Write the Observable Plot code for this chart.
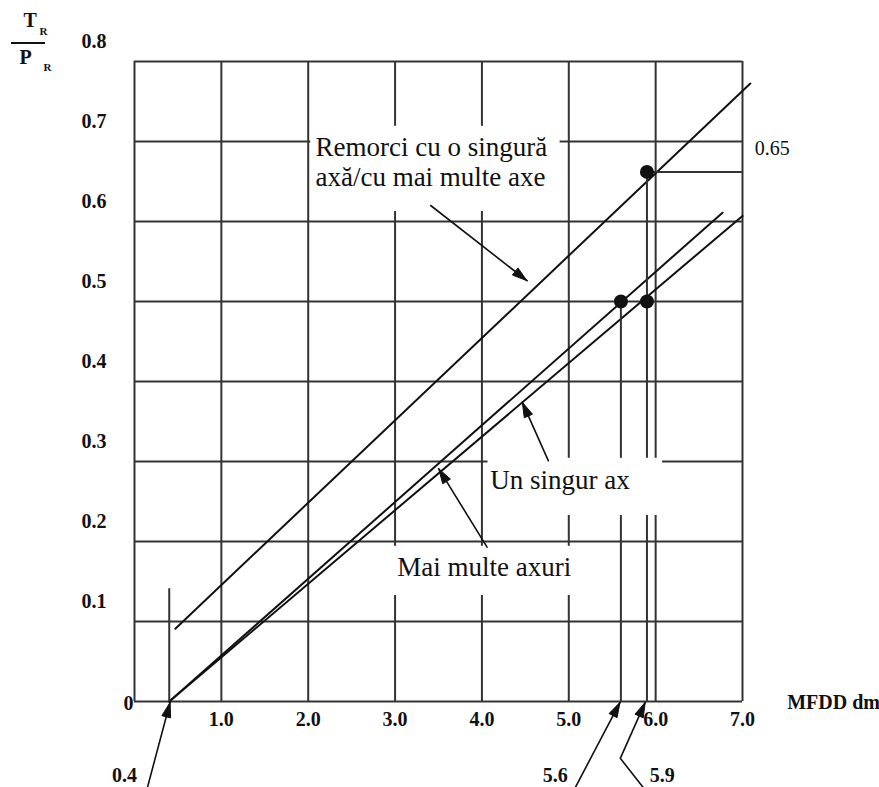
<!DOCTYPE html>
<html>
<head>
<meta charset="utf-8">
<script src="https://cdn.jsdelivr.net/npm/d3@7"></script>
<script src="https://cdn.jsdelivr.net/npm/@observablehq/plot@0.6"></script>
<style>
  html, body { margin: 0; padding: 0; background: #fff; }
  #chart svg, #chart svg text { font-family: "Liberation Serif", "Times New Roman", serif !important; }
</style>
</head>
<body>
<div id="chart"></div>
<script>
// ---- tick values ----
const xGridTicks = [0, 1, 2, 3, 4, 5, 6, 7];
const xLabelTicks = [1, 2, 3, 4, 5, 6, 7];
const yGridTicks = [0, 0.1, 0.2, 0.3, 0.4, 0.5, 0.6, 0.7, 0.8];
const yLabelTicks = [0.1, 0.2, 0.3, 0.4, 0.5, 0.6, 0.7, 0.8];
const yZeroTick = [0];

// ---- series (MFDD -> TR/PR) ----
const remorciLine = [{x: 0.47, y: 0.091}, {x: 7.09, y: 0.7725}];
const maiMulteAxuriLine = [{x: 0.4, y: 0}, {x: 6.77, y: 0.611}];
const unSingurAxLine = [{x: 0.4, y: 0}, {x: 7.0, y: 0.607}];

// ---- marked points and reading lines ----
const markedPoints = [{x: 5.6, y: 0.5}, {x: 5.9, y: 0.5}, {x: 5.9, y: 0.662}];
const dropLines = [{x: 0.4, y1: 0, y2: 0.141}, {x: 5.6, y1: 0, y2: 0.5}, {x: 5.9, y1: 0, y2: 0.662}];
const leaderLines = [{x1: 5.9, x2: 7.0, y: 0.662}];

// ---- annotation label boxes, texts and arrows ----
const labelBoxes = [
  {x1: 2.03, x2: 4.90, y1: 0.6125, y2: 0.719},
  {x1: 4.07, x2: 6.08, y1: 0.2325, y2: 0.304},
  {x1: 2.97, x2: 5.25, y1: 0.1325, y2: 0.194}
];
const annotationTexts = [
  {x: 2.083, y: 0.645, text: "Remorci cu o singură\naxă/cu mai multe axe"},
  {x: 4.097, y: 0.266, text: "Un singur ax"},
  {x: 3.026, y: 0.1575, text: "Mai multe axuri"}
];
// each arrow is a path of points; the head goes on the last point
const arrowPaths = [
  {id: "a1", x: 3.41, y: 0.620}, {id: "a1", x: 4.519, y: 0.526},
  {id: "a2", x: 4.764, y: 0.301}, {id: "a2", x: 4.465, y: 0.374},
  {id: "a3", x: 4.059, y: 0.193}, {id: "a3", x: 3.502, y: 0.291},
  {id: "b04", x: 0.15, y: -0.107}, {id: "b04", x: 0.41, y: -0.001},
  {id: "b56", x: 5.075, y: -0.1075}, {id: "b56", x: 5.59, y: -0.001},
  {id: "b59", x: 5.857, y: -0.1075}, {id: "b59", x: 5.593, y: -0.071}, {id: "b59", x: 5.88, y: -0.001}
];
const bottomLabels = [
  {x: -0.115, y: -0.0925, text: "0.4"},
  {x: 4.845, y: -0.0925, text: "5.6"},
  {x: 6.076, y: -0.0925, text: "5.9"}
];
const valueLabels = [{x: 7.342, y: 0.691, text: "0.65"}];
const xTitle = [{x: 7.514, y: -0.001, text: "MFDD dm"}];

const FONT = "Liberation Serif";
const INK = "#111";
const GRID = "#333";
const HEAD_LEN = 15, HEAD_HALF = 4.5;

function makeChart(extraMarks) {
  return Plot.plot({
    width: 879,
    height: 787,
    marginLeft: 134,
    marginRight: 137,
    marginTop: 61,
    marginBottom: 86,
    style: {fontFamily: FONT, background: "#fff", color: INK},
    x: {domain: [0, 7], label: null},
    y: {domain: [0, 0.8], label: null},
    marks: [
      Plot.gridX(xGridTicks, {stroke: GRID, strokeOpacity: 1, strokeWidth: 2}),
      Plot.gridY(yGridTicks, {stroke: GRID, strokeOpacity: 1, strokeWidth: 2}),
      Plot.line(remorciLine, {x: "x", y: "y", stroke: INK, strokeWidth: 2}),
      Plot.line(maiMulteAxuriLine, {x: "x", y: "y", stroke: INK, strokeWidth: 2}),
      Plot.line(unSingurAxLine, {x: "x", y: "y", stroke: INK, strokeWidth: 2}),
      Plot.ruleX(dropLines, {x: "x", y1: "y1", y2: "y2", stroke: GRID, strokeWidth: 2}),
      Plot.ruleY(leaderLines, {y: "y", x1: "x1", x2: "x2", stroke: GRID, strokeWidth: 2}),
      Plot.rect(labelBoxes, {x1: "x1", x2: "x2", y1: "y1", y2: "y2", fill: "#fff"}),
      Plot.dot(markedPoints, {x: "x", y: "y", r: 7, fill: INK}),
      Plot.text(annotationTexts, {x: "x", y: "y", text: "text", textAnchor: "start", lineAnchor: "bottom", fontFamily: FONT, fontSize: 27, lineHeight: 1.11, fill: INK}),
      Plot.line(arrowPaths, {x: "x", y: "y", z: "id", stroke: INK, strokeWidth: 1.6}),
      Plot.text(bottomLabels, {x: "x", y: "y", text: "text", fontFamily: FONT, fontSize: 20, fontWeight: "bold", fill: INK}),
      Plot.text(valueLabels, {x: "x", y: "y", text: "text", fontFamily: FONT, fontSize: 20, fill: INK}),
      Plot.text(xTitle, {x: "x", y: "y", text: "text", textAnchor: "start", fontFamily: FONT, fontSize: 20, fontWeight: "bold", fill: INK}),
      Plot.axisX(xLabelTicks, {tickSize: 0, tickPadding: 10, tickFormat: d3.format(".1f"), fontFamily: FONT, fontSize: 20, fontWeight: "bold", fill: INK, label: null}),
      Plot.axisY(yLabelTicks, {tickSize: 0, tickPadding: 28, dy: -20, tickFormat: d3.format(".1f"), fontFamily: FONT, fontSize: 20, fontWeight: "bold", fill: INK, label: null}),
      Plot.axisY(yZeroTick, {tickSize: 0, tickPadding: 1, dy: 2, tickFormat: () => "0", fontFamily: FONT, fontSize: 20, fontWeight: "bold", fill: INK, label: null}),
      // y-axis title: T_R over P_R
      Plot.text(["T"], {frameAnchor: "top-left", lineAnchor: "middle", dx: -111, dy: -41, text: (d) => d, fontFamily: FONT, fontSize: 20, fontWeight: "bold", fill: INK}),
      Plot.text(["R"], {frameAnchor: "top-left", lineAnchor: "middle", dx: -95, dy: -30, text: (d) => d, fontFamily: FONT, fontSize: 11, fontWeight: "bold", fill: INK}),
      Plot.text(["P"], {frameAnchor: "top-left", lineAnchor: "middle", dx: -115, dy: -4, text: (d) => d, fontFamily: FONT, fontSize: 20, fontWeight: "bold", fill: INK}),
      Plot.text(["R"], {frameAnchor: "top-left", lineAnchor: "middle", dx: -91, dy: 6, text: (d) => d, fontFamily: FONT, fontSize: 11, fontWeight: "bold", fill: INK}),
      ...extraMarks
    ]
  });
}

// first pass: get the plot's own scales to build solid arrow heads
const probe = makeChart([]);
const sx = probe.scale("x"), sy = probe.scale("y");
const groups = d3.groups(arrowPaths, (d) => d.id);
const arrowHeads = [];
for (const [id, pts] of groups) {
  const a = pts[pts.length - 2], b = pts[pts.length - 1];
  const ax = sx.apply(a.x), ay = sy.apply(a.y), bx = sx.apply(b.x), by = sy.apply(b.y);
  const len = Math.hypot(bx - ax, by - ay);
  const ux = (bx - ax) / len, uy = (by - ay) / len;
  const cx = bx - HEAD_LEN * ux, cy = by - HEAD_LEN * uy;
  const tri = [[bx, by], [cx - HEAD_HALF * uy, cy + HEAD_HALF * ux], [cx + HEAD_HALF * uy, cy - HEAD_HALF * ux], [bx, by]];
  for (const [px, py] of tri) arrowHeads.push({id, x: sx.invert(px), y: sy.invert(py)});
}

const chart = makeChart([
  Plot.line(arrowHeads, {x: "x", y: "y", z: "id", fill: INK, stroke: INK, strokeWidth: 1, strokeLinejoin: "miter"})
]);

// fraction bar of the y-axis title
d3.select(chart).append("line")
  .attr("x1", 11).attr("x2", 45).attr("y1", 43).attr("y2", 43)
  .attr("stroke", INK).attr("stroke-width", 2);

document.getElementById("chart").appendChild(chart);
</script>
</body>
</html>
